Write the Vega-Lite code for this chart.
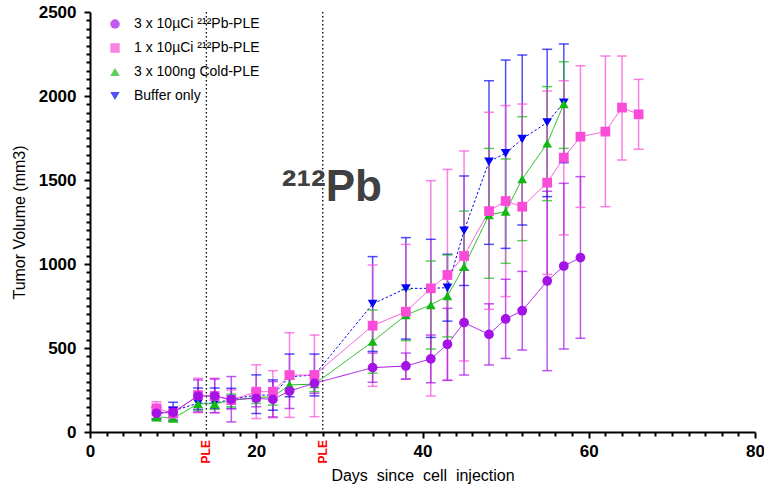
{
  "$schema": "https://vega.github.io/schema/vega-lite/v6.json",
  "width": 665,
  "height": 420,
  "autosize": {"type": "none"},
  "padding": {"left": 90, "top": 12, "right": 9, "bottom": 58},
  "background": "white",
  "config": {
    "view": {"stroke": null},
    "font": "Liberation Sans",
    "axis": {
      "grid": false,
      "domainColor": "black",
      "domainWidth": 2,
      "tickColor": "black",
      "tickWidth": 2,
      "labelFont": "Liberation Sans",
      "labelFontWeight": "bold",
      "labelFontSize": 17,
      "labelColor": "black",
      "titleFont": "Liberation Sans",
      "titleFontWeight": "normal",
      "titleFontSize": 16,
      "titleColor": "black"
    }
  },
  "datasets": {
    "ple": [{"day": 14, "label": "PLE"}, {"day": 28, "label": "PLE"}],
    "note": [{"day": 29.1, "vol": 1377, "label": "²¹²Pb"}],
    "tumor": [
      {"day": 8, "group": "Buffer only", "vol": 111, "lo": 80, "hi": 145},
      {"day": 10, "group": "Buffer only", "vol": 125, "lo": 70, "hi": 177},
      {"day": 13, "group": "Buffer only", "vol": 172, "lo": 135, "hi": 262},
      {"day": 15, "group": "Buffer only", "vol": 172, "lo": 140, "hi": 262},
      {"day": 17, "group": "Buffer only", "vol": 195, "lo": 140, "hi": 260},
      {"day": 20, "group": "Buffer only", "vol": 220, "lo": 110, "hi": 340},
      {"day": 22, "group": "Buffer only", "vol": 220, "lo": 130, "hi": 310},
      {"day": 24, "group": "Buffer only", "vol": 329, "lo": 210, "hi": 464},
      {"day": 27, "group": "Buffer only", "vol": 339, "lo": 215, "hi": 464},
      {"day": 34, "group": "Buffer only", "vol": 762, "lo": 480, "hi": 1044},
      {"day": 38, "group": "Buffer only", "vol": 855, "lo": 553, "hi": 1157},
      {"day": 41, "group": "Buffer only", "vol": 855, "lo": 563, "hi": 1147},
      {"day": 43, "group": "Buffer only", "vol": 859, "lo": 660, "hi": 1058},
      {"day": 45, "group": "Buffer only", "vol": 1198, "lo": 872, "hi": 1524},
      {"day": 48, "group": "Buffer only", "vol": 1609, "lo": 1117, "hi": 2091},
      {"day": 50, "group": "Buffer only", "vol": 1659, "lo": 1093, "hi": 2214},
      {"day": 52, "group": "Buffer only", "vol": 1744, "lo": 1232, "hi": 2244},
      {"day": 55, "group": "Buffer only", "vol": 1843, "lo": 1401, "hi": 2278},
      {"day": 57, "group": "Buffer only", "vol": 1960, "lo": 1603, "hi": 2310},
      {"day": 8, "group": "3 x 100ng Cold-PLE", "vol": 91, "lo": 65, "hi": 120},
      {"day": 10, "group": "3 x 100ng Cold-PLE", "vol": 81, "lo": 60, "hi": 105},
      {"day": 13, "group": "3 x 100ng Cold-PLE", "vol": 168, "lo": 130, "hi": 205},
      {"day": 15, "group": "3 x 100ng Cold-PLE", "vol": 168, "lo": 135, "hi": 205},
      {"day": 17, "group": "3 x 100ng Cold-PLE", "vol": 187, "lo": 150, "hi": 225},
      {"day": 20, "group": "3 x 100ng Cold-PLE", "vol": 206, "lo": 170, "hi": 245},
      {"day": 22, "group": "3 x 100ng Cold-PLE", "vol": 209, "lo": 160, "hi": 260},
      {"day": 24, "group": "3 x 100ng Cold-PLE", "vol": 280, "lo": 250, "hi": 315},
      {"day": 27, "group": "3 x 100ng Cold-PLE", "vol": 285, "lo": 240, "hi": 335},
      {"day": 34, "group": "3 x 100ng Cold-PLE", "vol": 538, "lo": 350, "hi": 726},
      {"day": 38, "group": "3 x 100ng Cold-PLE", "vol": 696, "lo": 544, "hi": 848},
      {"day": 41, "group": "3 x 100ng Cold-PLE", "vol": 756, "lo": 494, "hi": 1018},
      {"day": 43, "group": "3 x 100ng Cold-PLE", "vol": 810, "lo": 566, "hi": 1054},
      {"day": 45, "group": "3 x 100ng Cold-PLE", "vol": 984, "lo": 653, "hi": 1315},
      {"day": 48, "group": "3 x 100ng Cold-PLE", "vol": 1292, "lo": 915, "hi": 1688},
      {"day": 50, "group": "3 x 100ng Cold-PLE", "vol": 1312, "lo": 1004, "hi": 1625},
      {"day": 52, "group": "3 x 100ng Cold-PLE", "vol": 1506, "lo": 1139, "hi": 1877},
      {"day": 55, "group": "3 x 100ng Cold-PLE", "vol": 1718, "lo": 1377, "hi": 2056},
      {"day": 57, "group": "3 x 100ng Cold-PLE", "vol": 1952, "lo": 1688, "hi": 2204},
      {"day": 8, "group": "1 x 10µCi ²¹²Pb-PLE", "vol": 141, "lo": 100, "hi": 180},
      {"day": 10, "group": "1 x 10µCi ²¹²Pb-PLE", "vol": 110, "lo": 85, "hi": 140},
      {"day": 13, "group": "1 x 10µCi ²¹²Pb-PLE", "vol": 220, "lo": 115, "hi": 320},
      {"day": 15, "group": "1 x 10µCi ²¹²Pb-PLE", "vol": 214, "lo": 115, "hi": 320},
      {"day": 17, "group": "1 x 10µCi ²¹²Pb-PLE", "vol": 190, "lo": 135, "hi": 250},
      {"day": 20, "group": "1 x 10µCi ²¹²Pb-PLE", "vol": 240, "lo": 80, "hi": 400},
      {"day": 22, "group": "1 x 10µCi ²¹²Pb-PLE", "vol": 240, "lo": 85, "hi": 365},
      {"day": 24, "group": "1 x 10µCi ²¹²Pb-PLE", "vol": 339, "lo": 87, "hi": 591},
      {"day": 27, "group": "1 x 10µCi ²¹²Pb-PLE", "vol": 339, "lo": 91, "hi": 577},
      {"day": 34, "group": "1 x 10µCi ²¹²Pb-PLE", "vol": 633, "lo": 272, "hi": 994},
      {"day": 38, "group": "1 x 10µCi ²¹²Pb-PLE", "vol": 716, "lo": 315, "hi": 1117},
      {"day": 41, "group": "1 x 10µCi ²¹²Pb-PLE", "vol": 855, "lo": 214, "hi": 1496},
      {"day": 43, "group": "1 x 10µCi ²¹²Pb-PLE", "vol": 935, "lo": 307, "hi": 1563},
      {"day": 45, "group": "1 x 10µCi ²¹²Pb-PLE", "vol": 1048, "lo": 423, "hi": 1673},
      {"day": 48, "group": "1 x 10µCi ²¹²Pb-PLE", "vol": 1315, "lo": 730, "hi": 1903},
      {"day": 50, "group": "1 x 10µCi ²¹²Pb-PLE", "vol": 1375, "lo": 806, "hi": 1943},
      {"day": 52, "group": "1 x 10µCi ²¹²Pb-PLE", "vol": 1341, "lo": 730, "hi": 1952},
      {"day": 55, "group": "1 x 10µCi ²¹²Pb-PLE", "vol": 1484, "lo": 938, "hi": 2030},
      {"day": 57, "group": "1 x 10µCi ²¹²Pb-PLE", "vol": 1633, "lo": 1173, "hi": 2091},
      {"day": 59, "group": "1 x 10µCi ²¹²Pb-PLE", "vol": 1758, "lo": 1337, "hi": 2180},
      {"day": 62, "group": "1 x 10µCi ²¹²Pb-PLE", "vol": 1788, "lo": 1341, "hi": 2238},
      {"day": 64, "group": "1 x 10µCi ²¹²Pb-PLE", "vol": 1931, "lo": 1619, "hi": 2238},
      {"day": 66, "group": "1 x 10µCi ²¹²Pb-PLE", "vol": 1891, "lo": 1683, "hi": 2099},
      {"day": 8, "group": "3 x 10µCi ²¹²Pb-PLE", "vol": 111, "lo": 75, "hi": 150},
      {"day": 10, "group": "3 x 10µCi ²¹²Pb-PLE", "vol": 117, "lo": 90, "hi": 150},
      {"day": 13, "group": "3 x 10µCi ²¹²Pb-PLE", "vol": 214, "lo": 120, "hi": 310},
      {"day": 15, "group": "3 x 10µCi ²¹²Pb-PLE", "vol": 214, "lo": 115, "hi": 315},
      {"day": 17, "group": "3 x 10µCi ²¹²Pb-PLE", "vol": 194, "lo": 60, "hi": 330},
      {"day": 20, "group": "3 x 10µCi ²¹²Pb-PLE", "vol": 200, "lo": 150, "hi": 250},
      {"day": 22, "group": "3 x 10µCi ²¹²Pb-PLE", "vol": 194, "lo": 90, "hi": 300},
      {"day": 24, "group": "3 x 10µCi ²¹²Pb-PLE", "vol": 244, "lo": 140, "hi": 350},
      {"day": 27, "group": "3 x 10µCi ²¹²Pb-PLE", "vol": 290, "lo": 230, "hi": 345},
      {"day": 34, "group": "3 x 10µCi ²¹²Pb-PLE", "vol": 383, "lo": 296, "hi": 470},
      {"day": 38, "group": "3 x 10µCi ²¹²Pb-PLE", "vol": 393, "lo": 315, "hi": 470},
      {"day": 41, "group": "3 x 10µCi ²¹²Pb-PLE", "vol": 435, "lo": 293, "hi": 577},
      {"day": 43, "group": "3 x 10µCi ²¹²Pb-PLE", "vol": 522, "lo": 308, "hi": 736},
      {"day": 45, "group": "3 x 10µCi ²¹²Pb-PLE", "vol": 651, "lo": 339, "hi": 963},
      {"day": 48, "group": "3 x 10µCi ²¹²Pb-PLE", "vol": 581, "lo": 399, "hi": 763},
      {"day": 50, "group": "3 x 10µCi ²¹²Pb-PLE", "vol": 673, "lo": 438, "hi": 909},
      {"day": 52, "group": "3 x 10µCi ²¹²Pb-PLE", "vol": 722, "lo": 488, "hi": 956},
      {"day": 55, "group": "3 x 10µCi ²¹²Pb-PLE", "vol": 899, "lo": 365, "hi": 1433},
      {"day": 57, "group": "3 x 10µCi ²¹²Pb-PLE", "vol": 988, "lo": 494, "hi": 1480},
      {"day": 59, "group": "3 x 10µCi ²¹²Pb-PLE", "vol": 1038, "lo": 558, "hi": 1520}
    ]
  },
  "layer": [
    {
      "data": {"name": "ple"},
      "mark": {"type": "rule", "color": "black", "strokeWidth": 1.3, "strokeDash": [1.5, 2.5]},
      "encoding": {
        "x": {
          "field": "day",
          "type": "quantitative",
          "scale": {"domain": [0, 80], "nice": false, "zero": false},
          "axis": {
            "values": [0,2,4,6,8,10,12,14,16,18,20,22,24,26,28,30,32,34,36,38,40,42,44,46,48,50,52,54,56,58,60,62,64,66,68,70,72,74,76,78,80],
            "tickCount": 200,
            "format": "d",
            "labelExpr": "datum.value % 20 === 0 ? datum.label : ''",
            "labelOverlap": false,
            "labelFlush": false,
            "tickSize": {"condition": {"test": "datum.value % 20 === 0", "value": 6}, "value": 4},
            "labelPadding": 5,
            "title": "Days\u00a0 since\u00a0 cell\u00a0 injection",
            "titlePadding": 8
          }
        }
      }
    },
    {
      "data": {"name": "ple"},
      "mark": {"type": "text", "font": "Liberation Sans", "fontSize": 12, "fontWeight": "bold", "color": "#ff0000", "angle": 270, "align": "right", "baseline": "middle"},
      "encoding": {
        "x": {"field": "day", "type": "quantitative"},
        "y": {"datum": -48, "type": "quantitative"},
        "text": {"field": "label"}
      }
    },
    {
      "data": {"name": "tumor"},
      "mark": {"type": "rule", "strokeWidth": 1.5, "opacity": 0.7},
      "encoding": {
        "x": {"field": "day", "type": "quantitative"},
        "y": {
          "field": "lo",
          "type": "quantitative",
          "scale": {"domain": [0, 2500], "nice": false},
          "axis": {
            "values": [0,50,100,150,200,250,300,350,400,450,500,550,600,650,700,750,800,850,900,950,1000,1050,1100,1150,1200,1250,1300,1350,1400,1450,1500,1550,1600,1650,1700,1750,1800,1850,1900,1950,2000,2050,2100,2150,2200,2250,2300,2350,2400,2450,2500],
            "tickCount": 200,
            "format": "d",
            "labelExpr": "datum.value % 500 === 0 ? datum.label : ''",
            "labelOverlap": false,
            "labelFlush": false,
            "tickSize": {"condition": {"test": "datum.value % 500 === 0", "value": 6}, "value": 4},
            "labelPadding": 8,
            "title": "Tumor Volume (mm3)",
            "titlePadding": 11
          }
        },
        "y2": {"field": "hi"},
        "color": {"field": "group", "type": "nominal"}
      }
    },
    {
      "data": {"name": "tumor"},
      "mark": {"type": "tick", "orient": "horizontal", "size": 10, "thickness": 1.5, "opacity": 0.7},
      "encoding": {
        "x": {"field": "day", "type": "quantitative"},
        "y": {"field": "lo", "type": "quantitative"},
        "color": {"field": "group", "type": "nominal"}
      }
    },
    {
      "data": {"name": "tumor"},
      "mark": {"type": "tick", "orient": "horizontal", "size": 10, "thickness": 1.5, "opacity": 0.7},
      "encoding": {
        "x": {"field": "day", "type": "quantitative"},
        "y": {"field": "hi", "type": "quantitative"},
        "color": {"field": "group", "type": "nominal"}
      }
    },
    {
      "data": {"name": "tumor"},
      "mark": {"type": "line", "strokeWidth": 1},
      "encoding": {
        "x": {"field": "day", "type": "quantitative"},
        "y": {"field": "vol", "type": "quantitative"},
        "color": {"field": "group", "type": "nominal"},
        "strokeDash": {
          "field": "group",
          "type": "nominal",
          "scale": {
            "domain": ["3 x 10µCi ²¹²Pb-PLE", "1 x 10µCi ²¹²Pb-PLE", "3 x 100ng Cold-PLE", "Buffer only"],
            "range": [[1, 0], [1, 0], [1, 0], [2.5, 2]]
          },
          "legend": null
        }
      }
    },
    {
      "data": {"name": "tumor"},
      "mark": {"type": "point", "filled": true, "size": 95, "opacity": 1},
      "encoding": {
        "x": {"field": "day", "type": "quantitative"},
        "y": {"field": "vol", "type": "quantitative"},
        "color": {
          "field": "group",
          "type": "nominal",
          "scale": {
            "domain": ["3 x 10µCi ²¹²Pb-PLE", "1 x 10µCi ²¹²Pb-PLE", "3 x 100ng Cold-PLE", "Buffer only"],
            "range": ["#A512E6", "#FA4CD8", "#14B814", "#0505F5"]
          },
          "legend": {
            "orient": "none",
            "legendX": 18,
            "legendY": 5,
            "title": null,
            "padding": 0,
            "labelFont": "Liberation Sans",
            "labelFontSize": 14,
            "labelColor": "black",
            "labelOffset": 12,
            "symbolSize": 90,
            "rowPadding": 10,
            "symbolStrokeWidth": 0
          }
        },
        "shape": {
          "field": "group",
          "type": "nominal",
          "scale": {
            "domain": ["3 x 10µCi ²¹²Pb-PLE", "1 x 10µCi ²¹²Pb-PLE", "3 x 100ng Cold-PLE", "Buffer only"],
            "range": ["circle", "square", "triangle-up", "triangle-down"]
          },
          "legend": {
            "orient": "none",
            "legendX": 18,
            "legendY": 5,
            "title": null,
            "padding": 0,
            "labelFont": "Liberation Sans",
            "labelFontSize": 14,
            "labelColor": "black",
            "labelOffset": 12,
            "symbolSize": 90,
            "rowPadding": 10,
            "symbolStrokeWidth": 0
          }
        }
      }
    },
    {
      "data": {"name": "note"},
      "mark": {"type": "text", "font": "Liberation Sans", "fontSize": 44, "fontWeight": "bold", "color": "#404040", "align": "center", "baseline": "alphabetic"},
      "encoding": {
        "x": {"field": "day", "type": "quantitative"},
        "y": {"field": "vol", "type": "quantitative"},
        "text": {"field": "label"}
      }
    }
  ]
}
